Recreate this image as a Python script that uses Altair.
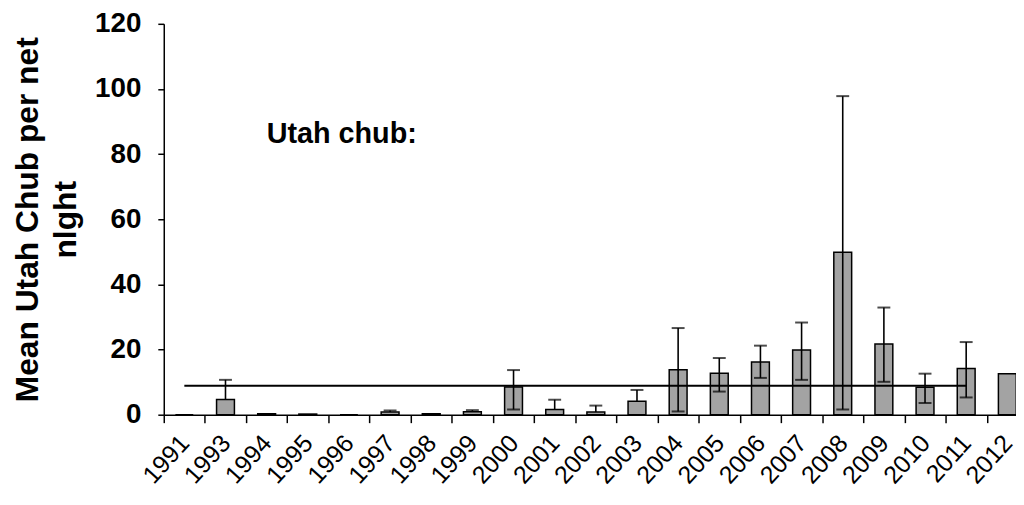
import altair as alt
import pandas as pd

years = ["1991", "1993", "1994", "1995", "1996", "1997", "1998", "1999", "2000", "2001",
         "2002", "2003", "2004", "2005", "2006", "2007", "2008", "2009", "2010", "2011", "2012"]
means = [0.0, 4.7, 0.3, 0.2, 0.0, 0.8, 0.3, 0.9, 8.5, 1.6,
         0.8, 4.1, 13.8, 12.7, 16.2, 19.9, 49.9, 21.7, 8.4, 14.2, 12.6]
err_upper = [None, 10.7, None, None, None, 1.3, None, 1.4, 13.7, 4.6,
             2.8, 7.6, 26.6, 17.4, 21.2, 28.3, 97.8, 32.9, 12.6, 22.3, None]
err_lower = [None, None, None, None, None, None, None, None, 1.6, None,
             None, None, 1.0, 7.1, 11.3, 10.7, 1.6, 10.1, 3.6, 5.3, None]
overall_years = ["1991", "2011"]
overall_mean = [8.9, 8.9]
note_text = ["Utah chub:"]
note_year = ["1994"]
note_value = [86]
y_ticks = [0, 20, 40, 60, 80, 100, 120]

FONT = "Liberation Sans, Arial"

df = pd.DataFrame({"year": years, "mean": means, "upper": err_upper, "lower": err_lower})
df["rule_low"] = df["lower"].fillna(df["mean"])
err_df = df.dropna(subset=["upper"])
low_df = df.dropna(subset=["lower"])
line_df = pd.DataFrame({"year": overall_years, "value": overall_mean})
note_df = pd.DataFrame({"year": note_year, "value": note_value, "text": note_text})

xscale = alt.Scale(domain=years, range=[0, 871], paddingInner=0, paddingOuter=0)
yscale = alt.Scale(domain=[0, 120], nice=False)

xaxis = alt.Axis(title=None, labelAngle=-48, labelAlign="right", labelBaseline="middle",
                 labelFont=FONT, labelFontSize=25, labelColor="black", labelPadding=16,
                 tickBand="extent", tickSize=8, tickWidth=1.5, tickColor="black",
                 domainColor="black", domainWidth=1.5)
yaxis = alt.Axis(values=y_ticks, grid=False, labelFont=FONT, labelFontSize=28,
                 labelFontWeight="bold", labelColor="black", labelPadding=17,
                 tickSize=6, tickWidth=1.5, tickColor="black", domainColor="black",
                 domainWidth=1.5,
                 title=["Mean Utah Chub per net", "nlght"], titleFont=FONT,
                 titleFontSize=32, titleFontWeight="bold", titleColor="black",
                 titleLineHeight=38, titleX=-120, titleY=197, titleAngle=270,
                 titleBaseline="bottom", titleAnchor="middle")

x = alt.X("year:N", sort=years, scale=xscale, axis=xaxis)

bars = alt.Chart(df).mark_bar(size=18, fill="#a3a3a3", stroke="black", strokeWidth=1.5).encode(
    x=x, y=alt.Y("mean:Q", scale=yscale, axis=yaxis))

rules = alt.Chart(err_df).mark_rule(color="black", strokeWidth=1.6).encode(
    x=alt.X("year:N", sort=years, scale=xscale), y=alt.Y("rule_low:Q", scale=yscale), y2="upper:Q")

caps_up = alt.Chart(err_df).mark_tick(color="black", size=13, thickness=2, orient="horizontal").encode(
    x=alt.X("year:N", sort=years, scale=xscale), y=alt.Y("upper:Q", scale=yscale))

caps_low = alt.Chart(low_df).mark_tick(color="black", size=13, thickness=2, orient="horizontal").encode(
    x=alt.X("year:N", sort=years, scale=xscale), y=alt.Y("lower:Q", scale=yscale))

mean_line = alt.Chart(line_df).mark_line(color="black", strokeWidth=2).encode(
    x=alt.X("year:N", sort=years, scale=xscale), y=alt.Y("value:Q", scale=yscale))

note = alt.Chart(note_df).mark_text(align="left", baseline="middle", font=FONT, fontSize=29,
                                   fontWeight="bold", color="black").encode(
    x=alt.X("year:N", sort=years, scale=xscale), y=alt.Y("value:Q", scale=yscale), text="text:N")

chart = alt.layer(bars, rules, caps_up, caps_low, mean_line, note).properties(
    width=859, height=394, autosize="none",
    padding={"left": 157, "top": 14, "right": 0, "bottom": 80},
    background="white",
).configure_view(strokeWidth=0)

chart.save("out.html", embed_options={"renderer": "svg", "actions": False})
